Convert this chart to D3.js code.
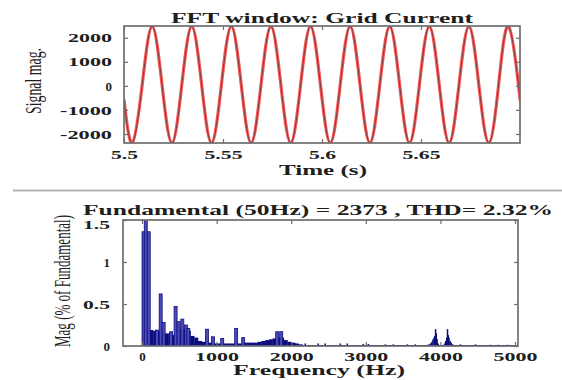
<!DOCTYPE html>
<html>
<head>
<meta charset="utf-8">
<script src="https://cdn.jsdelivr.net/npm/d3@7"></script>
<style>
body { margin: 0; background: #fff; }
svg { display: block; }
text { font-family: "Liberation Serif", "Times New Roman", serif; fill: #1e1e1e; }
</style>
</head>
<body>
<div id="chart"></div>
<script>
// FFT window: grid current (time in s, signal magnitude)
var timeS = [5.5, 5.5042, 5.5092, 5.5142, 5.5192, 5.5242, 5.5292, 5.5342, 5.5392, 5.5442,
  5.5492, 5.5542, 5.5592, 5.5642, 5.5692, 5.5742, 5.5792, 5.5842, 5.5892, 5.5942,
  5.5992, 5.6042, 5.6092, 5.6142, 5.6192, 5.6242, 5.6292, 5.6342, 5.6392, 5.6442,
  5.6492, 5.6542, 5.6592, 5.6642, 5.6692, 5.6742, 5.6792, 5.6842, 5.6892, 5.6942,
  5.6992, 5.7];
var signalA = [-560, -2370, 50, 2470, 50, -2370, 50, 2470, 50, -2370,
  50, 2470, 50, -2370, 50, 2470, 50, -2370, 50, 2470,
  50, -2370, 50, 2470, 50, -2370, 50, 2470, 50, -2370,
  50, 2470, 50, -2370, 50, 2470, 50, -2370, 50, 2470,
  50, -560];
var timeTicks = [5.5, 5.55, 5.6, 5.65];
var timeTickLabels = ["5.5", "5.55", "5.6", "5.65"];
var ampTicks = [-2000, -1000, 0, 1000, 2000];
var ampTickLabels = ["-2000", "-1000", "0", "1000", "2000"];

// spectrum (Hz, % of fundamental)
var floorFreq = [0, 50, 100, 150, 200, 250, 300, 350, 400, 450, 500, 550, 600, 650, 700,
  750, 800, 850, 900, 950, 1000, 1050, 1100, 1150, 1200, 1250, 1300, 1350, 1400, 1450,
  1500, 1550, 1600, 1650, 1700, 1750, 1800, 1850, 1900, 1950, 2000, 2050, 2100, 2150, 2200];
var floorMag = [0.15, 0.17, 0.19, 0.18, 0.17, 0.17, 0.15, 0.15, 0.13, 0.12, 0.2, 0.2, 0.18, 0.12, 0.1,
  0.06, 0.05, 0.04, 0.04, 0.03, 0.03, 0.03, 0.03, 0.03, 0.03, 0.03, 0.03, 0.04, 0.04, 0.04,
  0.04, 0.05, 0.06, 0.07, 0.08, 0.09, 0.1, 0.1, 0.07, 0.05, 0.04, 0.03, 0.02, 0.01, 0.01];
var peakFreq = [20, 50, 90, 200, 250, 290, 390, 450, 490, 540, 590, 620, 870, 950, 1075, 1262, 1356, 1812, 1866];
var peakMag = [1.36, 100, 1.36, 0.19, 0.62, 0.28, 0.17, 0.47, 0.29, 0.32, 0.25, 0.21, 0.2, 0.11, 0.09, 0.21, 0.1, 0.17, 0.17];
var hfFreq = [2054, 2188, 2362, 2456, 2658, 2752, 2966, 3034, 3262, 3369, 3557, 3664, 3840, 3865, 3885,
  3900, 3915, 3925, 3935, 3945, 3955, 3970, 4055, 4070, 4085, 4095, 4105, 4115, 4130, 4145,
  4165, 4268, 4470, 4671, 4778, 4899];
var hfMag = [0.03, 0.03, 0.03, 0.03, 0.03, 0.03, 0.025, 0.025, 0.02, 0.02, 0.02, 0.02, 0.02, 0.03, 0.05,
  0.08, 0.1, 0.12, 0.2, 0.15, 0.08, 0.03, 0.03, 0.06, 0.1, 0.2, 0.13, 0.1, 0.06, 0.04,
  0.02, 0.02, 0.02, 0.015, 0.015, 0.015];
var freqTicks = [0, 1000, 2000, 3000, 4000, 5000];
var magTicks = [0, 0.5, 1, 1.5];
var magTickLabels = ["0", "0.5", "1", "1.5"];

var svg = d3.select("#chart").append("svg").attr("width", 562).attr("height", 380);

// stretched look of the original figure
function labelLen(s) {
  var w = 0;
  for (var c of s) w += c == "." ? 5 : (c == "-" ? 8 : 11);
  return w;
}
function styleTicks(g, size) {
  g.select(".domain").remove();
  g.selectAll(".tick line").attr("stroke", "#6e6e6e").attr("stroke-width", 1.2);
  g.selectAll(".tick text")
    .style("font-size", size + "px").style("font-weight", "bold").attr("fill", "#2a2a2a")
    .each(function() {
      var s = d3.select(this).text();
      if (s.length > 1) d3.select(this).attr("textLength", labelLen(s)).attr("lengthAdjust", "spacingAndGlyphs");
    });
}
function boxAxes(x, y, xt, xl, yt, yl, xpad, ypad) {
  var x0 = x.range()[0], x1 = x.range()[1], y0 = y.range()[0], y1 = y.range()[1];
  svg.append("g").attr("transform", "translate(0," + y0 + ")")
    .call(d3.axisBottom(x).tickValues(xt).tickFormat(function(d, i) { return xl[i]; }).tickSizeInner(-4).tickSizeOuter(0).tickPadding(xpad))
    .call(function(g) { styleTicks(g, 13); });
  svg.append("g").attr("transform", "translate(0," + y1 + ")")
    .call(d3.axisTop(x).tickValues(xt).tickFormat("").tickSizeInner(-4).tickSizeOuter(0))
    .call(function(g) { styleTicks(g, 13); });
  var left = svg.append("g").attr("transform", "translate(" + x0 + ",0)")
    .call(d3.axisLeft(y).tickValues(yt).tickFormat(function(d, i) { return yl[i]; }).tickSizeInner(-4).tickSizeOuter(0).tickPadding(ypad))
    .call(function(g) { styleTicks(g, 13); });
  svg.append("g").attr("transform", "translate(" + x1 + ",0)")
    .call(d3.axisRight(y).tickValues(yt).tickFormat("").tickSizeInner(-4).tickSizeOuter(0))
    .call(function(g) { styleTicks(g, 13); });
  svg.append("rect").attr("x", x0).attr("y", y1).attr("width", x1 - x0).attr("height", y0 - y1)
    .attr("fill", "none").attr("stroke", "#6e6e6e").attr("stroke-width", 1.7);
  return left;
}
function hText(txt, x, y, size, len, bold) {
  svg.append("text").attr("x", x).attr("y", y).attr("text-anchor", "middle")
    .style("font-size", size + "px").style("font-weight", bold ? "bold" : "normal")
    .attr("textLength", len).attr("lengthAdjust", "spacingAndGlyphs").text(txt);
}
function vText(txt, x, y, size, len) {
  svg.append("text").attr("transform", "translate(" + x + "," + y + ") rotate(-90) scale(1,1.6)")
    .attr("text-anchor", "middle").style("font-size", size + "px").attr("fill", "#222")
    .attr("textLength", len).attr("lengthAdjust", "spacingAndGlyphs").text(txt);
}

// ---- top: signal ----
var xT = d3.scaleLinear().domain([5.5, 5.7]).range([124, 520]);
var yT = d3.scaleLinear().domain([-2375, 2487]).range([143, 26]);
svg.append("clipPath").attr("id", "clipT").append("rect")
  .attr("x", 124).attr("y", 26).attr("width", 396).attr("height", 117);

var pts = timeS.map(function(t, i) { return {t: t, v: signalA[i]}; });
var line = d3.line().x(function(d) { return xT(d.t); }).y(function(d) { return yT(d.v); }).curve(d3.curveNatural);
var gl = svg.append("g").attr("clip-path", "url(#clipT)");
gl.append("path").datum(pts).attr("d", line).attr("fill", "none").attr("stroke", "#f23c3c").attr("stroke-width", 3.2).attr("opacity", 0.85);
gl.append("path").datum(pts).attr("d", line).attr("fill", "none").attr("stroke", "#5a2828").attr("stroke-width", 0.8).attr("opacity", 0.85);

boxAxes(xT, yT, timeTicks, timeTickLabels, ampTicks, ampTickLabels, 7, 12);
hText("FFT window: Grid Current", 322, 23, 15, 302, true);
hText("Time (s)", 323, 175, 14.5, 88, true);
vText("Signal mag.", 41, 81, 14, 66);

// separator
svg.append("line").attr("x1", 13).attr("x2", 562).attr("y1", 190.5).attr("y2", 190.5)
  .attr("stroke", "#b4b4b4").attr("stroke-width", 2);

// ---- bottom: spectrum ----
var xB = d3.scaleLinear().domain([-255, 5040]).range([123, 518]);
var yB = d3.scaleLinear().domain([0, 1.5]).range([346, 220]);
svg.append("clipPath").attr("id", "clipB").append("rect")
  .attr("x", 123).attr("y", 220).attr("width", 395).attr("height", 126);
var gb = svg.append("g").attr("clip-path", "url(#clipB)");

var floorStep = 50;
gb.selectAll(".floor").data(floorFreq).enter().append("rect")
  .attr("x", function(d) { return xB(d); })
  .attr("width", function(d) { return xB(d + floorStep) - xB(d) + 0.3; })
  .attr("y", function(d, i) { return yB(floorMag[i]); })
  .attr("height", function(d, i) { return yB(0) - yB(floorMag[i]); })
  .attr("fill", "#0c0c7e");

gb.selectAll(".hf").data(hfFreq).enter().append("rect")
  .attr("x", function(d) { return xB(d) - 0.75; })
  .attr("width", 1.5)
  .attr("y", function(d, i) { return yB(hfMag[i]); })
  .attr("height", function(d, i) { return yB(0) - yB(hfMag[i]); })
  .attr("fill", "#0c0c7e");

var peakW = 40;
gb.selectAll(".pk").data(peakFreq).enter().append("rect")
  .attr("x", function(d) { return xB(d - peakW / 2); })
  .attr("width", xB(peakW) - xB(0))
  .attr("y", function(d, i) { return yB(peakMag[i]); })
  .attr("height", function(d, i) { return yB(0) - yB(peakMag[i]); })
  .attr("fill", "#4c4cb8").attr("stroke", "#0c0c7e").attr("stroke-width", 0.8);

gb.append("line").attr("x1", xB(0)).attr("x2", xB(5000)).attr("y1", yB(0) - 0.5).attr("y2", yB(0) - 0.5)
  .attr("stroke", "#0c0c7e").attr("stroke-width", 1);

var leftB = boxAxes(xB, yB, freqTicks, freqTicks.map(String), magTicks, magTickLabels, 6, 13);
// top label sits just under the title, as in the original
leftB.selectAll(".tick text").filter(function(d) { return d == 1.5; }).attr("dy", "0.62em");
hText("Fundamental (50Hz) = 2373 , THD= 2.32%", 318, 215, 15, 470, true);
hText("Frequency (Hz)", 319, 375, 14, 172, true);
vText("Mag (% of Fundamental)", 70, 281, 14, 132);
</script>
</body>
</html>
